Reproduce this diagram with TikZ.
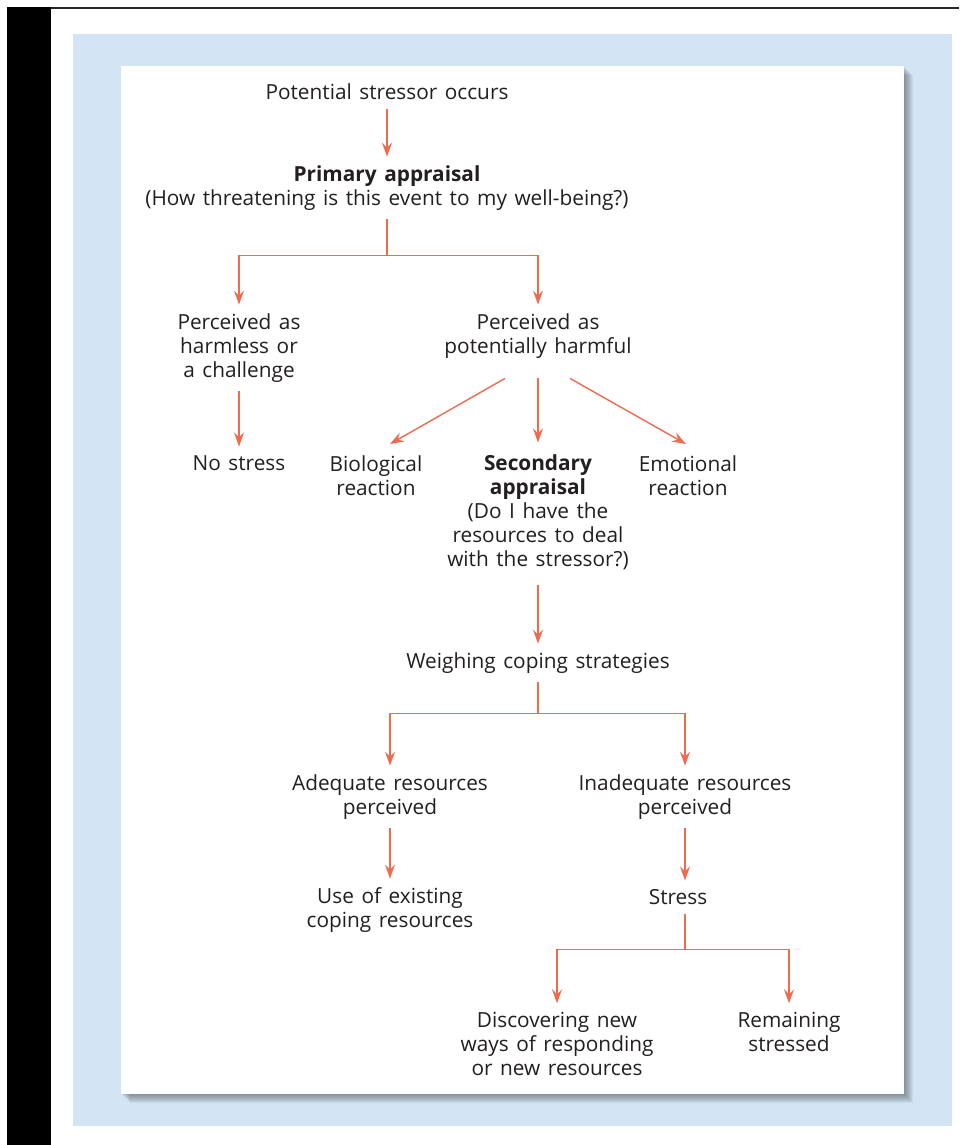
\documentclass[tikz,border=0pt]{standalone}
\usepackage{fontspec}
\setmainfont{Open Sans}[WordSpace=1.4]
\usetikzlibrary{arrows.meta,calc}
\definecolor{arrowred}{HTML}{EF6A4F}
\definecolor{panelblue}{HTML}{D3E4F4}
\definecolor{inkgray}{HTML}{231F20}

\begin{document}
\begin{tikzpicture}[x=1pt,y=-1pt,
  txt/.style={align=center,inner sep=0pt,outer sep=9pt,text=inkgray,font=\fontsize{20.8}{24}\selectfont},
  arr/.style={-{Stealth[length=14pt,width=10pt,inset=5pt]},draw=arrowred,line width=1.4pt}]
\useasboundingbox (0,0) rectangle (959,1145);
% page frame
\fill[black] (7,7) rectangle (51,1145);
\fill[black!85] (51,7) rectangle (959,9.5);
\fill[panelblue] (73,34) rectangle (952,1126);
% soft shadow of the panel
\foreach \i in {1,...,9}
  \fill[black!70!panelblue,opacity=0.07] (121+\i,66+\i) rectangle (904+\i,1094+\i);
\fill[white] (121,66) rectangle (904,1094);

\node[txt] (start) at (387,92) {Potential stressor occurs};
\node[txt] (primary) at (387,188) {\textbf{Primary appraisal}\\(How threatening is this event to my well-being?)};
\node[txt] (harmless) at (239,348) {Perceived as\\harmless or\\a challenge};
\node[txt] (harmful) at (538,336) {Perceived as\\potentially harmful};
\node[txt] (nostress) at (239,463) {No stress};
\node[txt] (bio) at (376,476) {Biological\\reaction};
\node[txt] (second) at (538,512) {\textbf{Secondary}\\\textbf{appraisal}\\(Do I have the\\resources to deal\\with the stressor?)};
\node[txt] (emo) at (688,476) {Emotional\\reaction};
\node[txt] (weigh) at (538,663) {Weighing coping strategies};
\node[txt] (adequate) at (390,797) {Adequate resources\\perceived};
\node[txt] (inadequate) at (685,797) {Inadequate resources\\perceived};
\node[txt] (existing) at (390,910) {Use of existing\\coping resources};
\node[txt] (stress) at (678,897) {Stress};
\node[txt] (discover) at (557,1044) {Discovering new\\ways of responding\\or new resources};
\node[txt] (remain) at (789,1032) {Remaining\\stressed};

\draw[arr] (start) -- (primary);
\draw[arr] (primary.south) -- ++(0,36) -| (harmless);
\draw[arr] (primary.south) ++(0,36) -| (harmful);
\draw[arr] (harmless) -- (nostress);
\draw[arr] ($(harmful.south)+(-33,11)$) -- ($(bio.north)+(14,-3)$);
\draw[arr] ($(harmful.south)+(0,11)$) -- ($(second.north)+(0,-3)$);
\draw[arr] ($(harmful.south)+(32,11)$) -- ($(emo.north)+(-2,-3)$);
\draw[arr] ($(second.south)+(0,6)$) -- (weigh);
\draw[arr] (weigh.south) -- ++(0,31) -| (adequate);
\draw[arr] (weigh.south) ++(0,31) -| (inadequate);
\draw[arr] (adequate) -- (existing);
\draw[arr] (inadequate.south) -- (inadequate.south |- stress.north);
\draw[arr] (stress.south -| inadequate.south) -- ++(0,36) -| (discover);
\draw[arr] (stress.south -| inadequate.south) ++(0,36) -| (remain);
\end{tikzpicture}
\end{document}
